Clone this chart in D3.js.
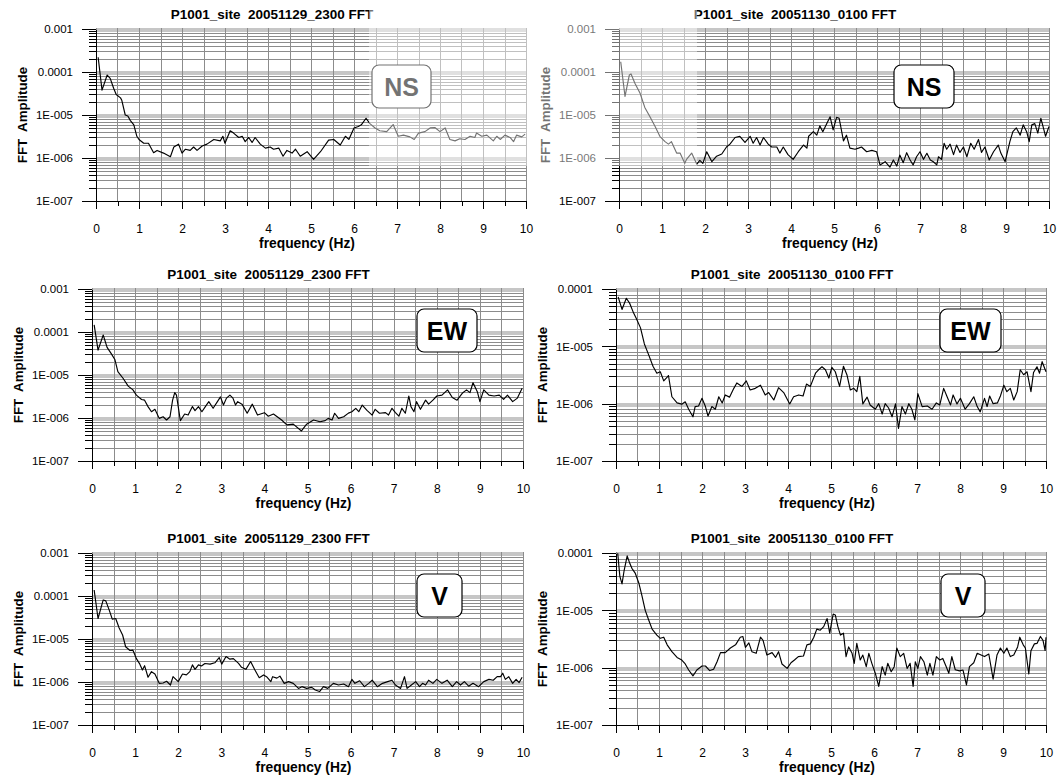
<!DOCTYPE html>
<html lang="en">
<head>
  <meta charset="UTF-8">
  <title>P1001_site FFT</title>
  <style>
    body { margin: 0; padding: 0; background: #fff; }
    svg text { font-family: Arial, "Liberation Sans", sans-serif; white-space: pre; }
    .grid line { stroke: #8c8c8c; stroke-width: 1px; shape-rendering: crispEdges; }
    .grid rect { fill: #c6c6c6; shape-rendering: crispEdges; }
    .axis path, .axis line { stroke: #000; shape-rendering: crispEdges; }
  </style>
</head>
<body>
<div id="chart"></div>
<script src="https://d3js.org/d3.v7.min.js"></script>
<script>
  // amplitudes are in units of 1e-6, frequency in Hz: [f, amp]
  const ns2300 = [[0.05,220],[0.14,38],[0.26,85],[0.33,71],[0.41,42],[0.47,30],[0.57,25],[0.6,22],[0.68,10],[0.74,9.5],[0.8,7.4],[0.88,5.9],[0.95,3.2],[1.0,2.7],[1.11,2.2],[1.22,2.2],[1.34,1.33],[1.42,1.5],[1.57,1.3],[1.73,1.07],[1.81,1.8],[1.92,2.1],[2.0,1.3],[2.08,1.6],[2.19,1.5],[2.27,1.8],[2.35,1.5],[2.47,1.9],[2.58,2.1],[2.74,2.7],[2.89,2.5],[2.95,3.2],[3.0,2.2],[3.12,4.3],[3.2,3.8],[3.32,3.0],[3.4,3.2],[3.47,2.4],[3.55,3.0],[3.63,2.3],[3.7,3.0],[3.82,2.1],[3.94,1.7],[4.05,1.8],[4.13,1.6],[4.25,1.7],[4.35,1.1],[4.44,1.5],[4.56,1.3],[4.64,1.6],[4.75,1.1],[4.91,1.4],[5.06,0.93],[5.22,1.4],[5.41,2.6],[5.53,2.7],[5.68,2.0],[5.8,3.2],[5.88,2.7],[6.0,5.0],[6.1,5.4],[6.17,5.9],[6.28,8.4],[6.37,6.3],[6.49,5.0],[6.6,4.3],[6.76,4.1],[6.91,6.0],[7.03,3.2],[7.15,3.4],[7.3,3.1],[7.4,2.7],[7.5,3.8],[7.65,4.1],[7.77,5.0],[7.88,5.1],[8.0,4.1],[8.12,5.0],[8.23,2.7],[8.35,2.5],[8.46,2.8],[8.58,2.7],[8.7,3.2],[8.81,3.0],[8.85,3.8],[8.97,3.2],[9.09,3.4],[9.24,2.5],[9.32,3.2],[9.4,2.7],[9.51,3.4],[9.63,3.0],[9.71,2.4],[9.78,3.4],[9.9,3.1],[9.98,3.6]];

  const ns0100 = [[0.04,173],[0.14,27],[0.24,85],[0.28,90],[0.37,55],[0.49,32],[0.6,15],[0.72,9.1],[0.84,5.4],[0.95,3.2],[1.07,2.4],[1.15,2.1],[1.22,2.4],[1.34,1.3],[1.42,1.3],[1.53,0.75],[1.57,0.93],[1.69,1.3],[1.81,0.72],[1.88,0.88],[1.95,0.75],[2.04,1.4],[2.16,0.82],[2.27,1.1],[2.39,1.24],[2.5,1.8],[2.58,2.1],[2.7,3.0],[2.81,3.2],[2.93,2.3],[3.05,3.2],[3.12,2.2],[3.2,3.0],[3.28,2.0],[3.36,3.0],[3.47,2.1],[3.55,1.8],[3.67,1.8],[3.74,1.3],[3.82,1.8],[3.93,1.2],[4.05,0.93],[4.17,1.4],[4.29,2.0],[4.37,1.7],[4.41,3.2],[4.52,4.1],[4.6,3.4],[4.67,5.6],[4.74,4.1],[4.83,6.3],[4.91,9.1],[4.98,4.5],[5.06,8.8],[5.12,8.4],[5.22,2.5],[5.29,3.4],[5.37,1.7],[5.49,1.6],[5.57,1.7],[5.64,1.8],[5.76,1.4],[5.88,1.5],[5.99,1.4],[6.07,0.69],[6.19,0.82],[6.3,0.61],[6.38,0.9],[6.46,0.65],[6.53,1.17],[6.61,0.78],[6.69,1.33],[6.77,0.9],[6.84,0.69],[6.92,1.07],[7.0,1.4],[7.08,0.93],[7.16,1.29],[7.24,0.9],[7.31,0.82],[7.39,0.69],[7.43,1.07],[7.5,0.93],[7.56,2.2],[7.62,1.6],[7.7,2.1],[7.78,1.2],[7.85,2.0],[7.93,1.35],[8.01,1.8],[8.09,1.07],[8.18,2.2],[8.26,1.6],[8.36,2.7],[8.43,1.35],[8.51,1.8],[8.61,0.9],[8.71,1.4],[8.82,2.0],[8.88,1.3],[8.98,0.82],[9.09,2.4],[9.16,4.1],[9.24,5.0],[9.33,3.4],[9.4,5.9],[9.48,4.1],[9.54,2.4],[9.6,5.9],[9.67,6.3],[9.74,3.8],[9.81,8.4],[9.87,5.0],[9.92,3.2],[10.0,5.4]];

  const ew2300 = [[0.05,146],[0.14,38],[0.26,85],[0.35,44],[0.45,31],[0.53,23],[0.6,12],[0.72,8.4],[0.84,5.5],[0.95,4.5],[1.03,3.4],[1.15,2.7],[1.22,2.6],[1.3,1.84],[1.38,1.4],[1.46,1.59],[1.56,0.98],[1.65,1.07],[1.73,0.9],[1.81,1.07],[1.87,2.6],[1.92,3.9],[1.96,3.4],[2.05,0.87],[2.15,1.24],[2.23,1.17],[2.33,1.84],[2.39,1.48],[2.47,1.84],[2.55,1.4],[2.63,1.84],[2.71,2.4],[2.81,1.68],[2.91,2.4],[2.98,3.1],[3.05,2.0],[3.12,2.9],[3.2,3.4],[3.27,2.9],[3.33,2.0],[3.38,2.4],[3.48,2.1],[3.6,1.29],[3.72,2.1],[3.84,1.17],[4.0,1.33],[4.09,1.1],[4.21,1.24],[4.4,0.9],[4.52,0.69],[4.67,0.72],[4.86,0.5],[4.98,0.72],[5.14,0.9],[5.29,0.82],[5.41,0.87],[5.48,0.98],[5.57,0.9],[5.63,1.29],[5.72,0.98],[5.84,1.07],[5.95,1.3],[6.03,1.4],[6.12,1.68],[6.19,1.4],[6.27,2.0],[6.38,1.5],[6.5,1.17],[6.57,1.59],[6.67,1.29],[6.81,1.33],[6.88,1.17],[6.96,1.68],[7.04,1.33],[7.12,1.1],[7.19,1.68],[7.27,1.29],[7.35,3.25],[7.4,1.84],[7.47,1.4],[7.53,2.4],[7.62,1.59],[7.74,2.6],[7.81,2.1],[7.91,2.6],[8.0,3.25],[8.12,3.4],[8.25,4.5],[8.36,3.0],[8.47,2.6],[8.59,3.75],[8.69,4.5],[8.77,3.9],[8.84,6.6],[8.94,4.1],[9.0,2.4],[9.09,4.5],[9.21,3.4],[9.33,3.25],[9.45,3.4],[9.55,2.7],[9.64,3.4],[9.76,2.4],[9.87,2.9],[9.98,4.9]];

  const ew0100 = [[0.05,73],[0.14,44],[0.24,69],[0.32,56],[0.41,38],[0.47,31],[0.57,21],[0.66,11],[0.76,7.1],[0.86,4.5],[0.95,3.4],[1.03,3.6],[1.11,2.5],[1.19,2.9],[1.22,3.1],[1.3,1.32],[1.42,1.03],[1.53,0.98],[1.61,1.08],[1.69,0.8],[1.79,0.59],[1.84,0.89],[1.92,0.91],[2.0,1.24],[2.08,0.89],[2.14,0.61],[2.23,0.89],[2.31,0.8],[2.39,1.32],[2.47,1.03],[2.54,1.42],[2.64,1.3],[2.74,1.85],[2.81,2.3],[2.93,2.0],[3.03,2.5],[3.12,1.73],[3.24,1.85],[3.36,2.1],[3.47,1.42],[3.55,1.56],[3.67,1.16],[3.78,1.9],[3.9,1.56],[4.04,0.99],[4.13,1.32],[4.25,1.42],[4.35,1.36],[4.43,2.2],[4.52,2.0],[4.64,3.4],[4.71,3.9],[4.79,4.4],[4.87,3.9],[4.95,2.8],[5.02,4.3],[5.1,3.6],[5.2,2.0],[5.29,4.5],[5.37,3.2],[5.45,1.73],[5.53,1.85],[5.6,1.62],[5.67,3.0],[5.74,0.99],[5.84,1.3],[5.91,0.95],[6.03,0.8],[6.11,1.0],[6.19,0.66],[6.26,1.0],[6.34,0.84],[6.42,0.59],[6.5,0.99],[6.57,0.37],[6.65,0.89],[6.73,0.66],[6.81,1.0],[6.88,0.8],[6.95,0.52],[7.02,1.5],[7.12,0.89],[7.24,0.91],[7.35,0.8],[7.45,1.03],[7.53,0.95],[7.62,1.85],[7.7,1.32],[7.78,0.95],[7.84,1.42],[7.93,0.99],[8.01,1.24],[8.12,0.8],[8.22,1.0],[8.32,1.32],[8.4,0.89],[8.47,0.72],[8.57,1.24],[8.63,0.89],[8.69,1.36],[8.77,1.0],[8.87,1.03],[8.94,1.36],[9.02,2.1],[9.09,1.62],[9.17,1.85],[9.25,1.16],[9.33,1.62],[9.4,3.9],[9.48,3.2],[9.56,3.6],[9.65,1.62],[9.71,3.5],[9.79,4.4],[9.85,3.4],[9.91,5.4],[10.0,3.6]];

  const v2300 = [[0.05,138],[0.14,30],[0.26,81],[0.32,77],[0.4,47],[0.47,29],[0.55,30],[0.63,18],[0.71,12.4],[0.78,6.6],[0.88,5.4],[0.95,5.5],[1.03,3.5],[1.11,2.6],[1.17,1.9],[1.22,2.4],[1.3,1.29],[1.38,1.74],[1.46,1.53],[1.56,0.93],[1.65,0.95],[1.73,1.04],[1.82,0.85],[1.88,1.33],[2.0,1.02],[2.1,1.53],[2.19,1.46],[2.27,1.74],[2.33,2.5],[2.39,1.97],[2.47,2.5],[2.54,2.36],[2.62,2.7],[2.74,2.6],[2.85,2.8],[2.95,3.7],[3.01,2.6],[3.11,3.9],[3.2,3.4],[3.28,3.5],[3.4,2.7],[3.47,2.2],[3.57,1.97],[3.68,3.0],[3.78,1.9],[3.88,1.26],[3.98,1.46],[4.05,1.33],[4.15,1.02],[4.19,1.33],[4.29,1.23],[4.36,1.37],[4.46,0.93],[4.56,1.02],[4.67,0.93],[4.79,0.71],[4.87,0.78],[4.98,0.71],[5.1,0.75],[5.18,0.65],[5.28,0.6],[5.37,0.78],[5.47,0.71],[5.6,0.93],[5.72,0.85],[5.84,0.9],[5.95,0.78],[6.03,1.15],[6.1,0.93],[6.21,1.07],[6.32,0.78],[6.42,0.93],[6.5,1.1],[6.62,0.78],[6.74,0.93],[6.86,1.02],[6.96,1.1],[7.04,0.85],[7.16,0.71],[7.25,1.33],[7.31,0.71],[7.41,0.85],[7.51,1.02],[7.6,0.78],[7.67,0.93],[7.74,0.85],[7.81,1.1],[7.91,0.93],[8.0,1.15],[8.12,0.93],[8.24,1.1],[8.36,0.78],[8.46,1.02],[8.55,0.85],[8.64,1.02],[8.74,0.8],[8.84,0.93],[8.97,0.78],[9.09,1.02],[9.21,1.15],[9.31,1.1],[9.4,1.33],[9.48,1.33],[9.53,1.6],[9.59,1.15],[9.67,1.33],[9.76,0.93],[9.84,1.15],[9.91,0.97],[9.98,1.29]];

  const v0100 = [[0.04,99],[0.09,39],[0.14,29],[0.19,50],[0.26,89],[0.32,66],[0.37,54],[0.45,44],[0.53,30],[0.6,18.5],[0.68,10],[0.76,6.8],[0.84,4.7],[0.95,3.7],[1.03,3.25],[1.11,3.4],[1.19,2.5],[1.3,1.9],[1.42,1.51],[1.53,1.36],[1.61,1.16],[1.69,0.91],[1.79,0.72],[1.88,0.91],[2.0,1.07],[2.08,1.07],[2.18,0.89],[2.27,0.94],[2.35,1.27],[2.43,1.83],[2.54,1.83],[2.66,2.2],[2.78,2.5],[2.89,3.4],[2.95,3.5],[3.01,2.26],[3.09,2.7],[3.16,1.9],[3.26,1.78],[3.36,3.4],[3.42,3.0],[3.51,1.66],[3.63,1.83],[3.71,1.51],[3.78,1.9],[3.86,1.16],[3.98,0.97],[4.07,1.22],[4.15,1.36],[4.24,1.56],[4.36,1.6],[4.44,2.5],[4.52,2.6],[4.6,3.4],[4.67,4.7],[4.75,4.5],[4.83,5.2],[4.91,7.2],[4.97,4.0],[5.05,8.6],[5.1,8.3],[5.16,5.2],[5.22,3.7],[5.29,4.0],[5.35,1.56],[5.41,2.3],[5.49,1.78],[5.54,1.19],[5.6,2.65],[5.68,1.36],[5.74,1.66],[5.82,1.04],[5.88,1.78],[5.95,1.19],[6.03,0.8],[6.11,0.47],[6.19,1.04],[6.26,0.74],[6.32,1.19],[6.4,0.85],[6.47,1.04],[6.53,2.2],[6.61,1.56],[6.69,1.78],[6.77,0.97],[6.84,1.19],[6.91,0.47],[6.96,1.27],[7.02,0.97],[7.08,1.56],[7.16,1.27],[7.24,0.74],[7.3,1.19],[7.37,0.74],[7.45,1.56],[7.53,1.36],[7.6,1.45],[7.68,1.04],[7.74,0.8],[7.81,1.56],[7.89,0.92],[7.99,0.88],[8.07,0.91],[8.15,0.5],[8.22,1.04],[8.32,1.22],[8.4,1.78],[8.49,1.66],[8.57,1.56],[8.67,1.73],[8.77,0.63],[8.86,1.66],[8.94,2.2],[9.02,1.78],[9.09,2.2],[9.17,1.56],[9.25,1.66],[9.34,2.3],[9.39,3.4],[9.47,2.5],[9.52,2.2],[9.6,0.78],[9.65,1.98],[9.73,2.6],[9.79,2.65],[9.87,3.5],[9.93,3.0],[9.98,1.99],[10.0,3.4]];

  const titles = ["P1001_site  20051129_2300 FFT", "P1001_site  20051130_0100 FFT"];
  const components = ["NS", "EW", "V"];
  const decadeValues = [1e-3, 1e-4, 1e-5, 1e-6, 1e-7];
  const decadeLabels = ["0.001", "0.0001", "1E-005", "1E-006", "1E-007"];
  const freqTicks = [0, 1, 2, 3, 4, 5, 6, 7, 8, 9, 10];
  const freqHalfTicks = [0.5, 1.5, 2.5, 3.5, 4.5, 5.5, 6.5, 7.5, 8.5, 9.5];

  const panels = [
    { x0: 96,  x1: 526,  top: 29,  bottom: 201, ymax: 1e-3, title: titles[0], comp: components[0], data: ns2300, box: [372, 65, 59, 43] },
    { x0: 619, x1: 1049, top: 29,  bottom: 201, ymax: 1e-3, title: titles[1], comp: components[0], data: ns0100, box: [894, 65, 60, 43] },
    { x0: 92,  x1: 523,  top: 289, bottom: 461, ymax: 1e-3, title: titles[0], comp: components[1], data: ew2300, box: [417, 309, 60, 43] },
    { x0: 616, x1: 1046, top: 289, bottom: 461, ymax: 1e-4, title: titles[1], comp: components[1], data: ew0100, box: [940, 309, 61, 43] },
    { x0: 92,  x1: 523,  top: 553, bottom: 725, ymax: 1e-3, title: titles[0], comp: components[2], data: v2300,  box: [417, 574, 45, 43] },
    { x0: 616, x1: 1046, top: 553, bottom: 725, ymax: 1e-4, title: titles[1], comp: components[2], data: v0100,  box: [941, 574, 44, 43] }
  ];

  const svg = d3.select("#chart").append("svg")
      .attr("width", 1061)
      .attr("height", 778);

  const isDecade = v => decadeValues.some(d => Math.abs(d / v - 1) < 1e-6);
  const isNine = v => Math.abs(v / Math.pow(10, Math.floor(Math.log10(v) + 1e-9)) - 9) < 1e-6;

  panels.forEach(p => {
    const x = d3.scaleLinear().domain([0, 10]).range([p.x0, p.x1]);
    const y = d3.scaleLog().domain([1e-7, p.ymax]).range([p.bottom, p.top]);
    const g = svg.append("g");
    const logTicks = y.ticks();

    // log grid: light band at each decade, thin lines for 2..8
    const grid = g.append("g").attr("class", "grid");
    grid.selectAll("rect").data(logTicks.filter(isDecade).filter(v => v > 1e-7)).enter().append("rect")
        .attr("x", p.x0).attr("width", p.x1 - p.x0)
        .attr("y", d => Math.round(y(d)) - 1).attr("height", 4);
    grid.selectAll(".h").data(logTicks.filter(v => !isDecade(v) && !isNine(v))).enter().append("line")
        .attr("x1", p.x0).attr("x2", p.x1)
        .attr("y1", d => Math.round(y(d)) + 0.5).attr("y2", d => Math.round(y(d)) + 0.5);
    grid.selectAll(".v").data(freqTicks.concat(freqHalfTicks)).enter().append("line")
        .attr("x1", d => Math.round(x(d)) + 0.5).attr("x2", d => Math.round(x(d)) + 0.5)
        .attr("y1", p.top - 1).attr("y2", p.bottom);

    // y axis: decade labels + minor ticks
    const decs = decadeValues.filter(v => v <= p.ymax * 1.0001);
    const yAxis = g.append("g").attr("class", "axis")
        .attr("transform", `translate(${p.x0},0)`)
        .call(d3.axisLeft(y).tickValues(decs).tickSize(14).tickSizeOuter(0).tickPadding(9)
          .tickFormat(d => decadeLabels[decadeValues.indexOf(d)]));
    yAxis.selectAll("text").attr("font-size", 11.5).attr("fill", "#000");
    g.append("g").attr("class", "axis")
        .attr("transform", `translate(${p.x0},0)`)
        .call(d3.axisLeft(y).tickValues(logTicks.filter(v => !isDecade(v)))
          .tickSize(7).tickSizeOuter(0).tickFormat(""))
        .select(".domain").remove();

    // x axis
    const xAxis = g.append("g").attr("class", "axis")
        .attr("transform", `translate(0,${p.bottom})`)
        .call(d3.axisBottom(x).tickValues(freqTicks).tickSize(8).tickSizeOuter(0).tickPadding(15)
          .tickFormat(d3.format("d")));
    xAxis.selectAll("text").attr("font-size", 12).attr("fill", "#000");
    g.append("g").attr("class", "axis")
        .attr("transform", `translate(0,${p.bottom})`)
        .call(d3.axisBottom(x).tickValues(freqHalfTicks).tickSize(5).tickSizeOuter(0).tickFormat(""))
        .select(".domain").remove();
    g.append("line").attr("x1", p.x0 - 14).attr("x2", p.x0)
        .attr("y1", p.bottom + 0.5).attr("y2", p.bottom + 0.5).attr("stroke", "#000");

    // spectrum line
    const line = d3.line()
        .x(d => x(d[0]))
        .y(d => y(Math.min(d[1] * 1e-6, p.ymax)));
    g.append("path").datum(p.data)
        .attr("fill", "none").attr("stroke", "#000").attr("stroke-width", 1.15)
        .attr("stroke-linejoin", "round")
        .attr("d", line);

    // titles
    g.append("text")
        .attr("x", (p.x0 + p.x1) / 2 - 39).attr("y", p.top - 10.5)
        .attr("text-anchor", "middle").attr("font-size", 13.5).attr("font-weight", "bold")
        .text(p.title);
    g.append("text")
        .attr("x", (p.x0 + p.x1) / 2 - 4).attr("y", p.bottom + 47)
        .attr("text-anchor", "middle").attr("font-size", 13.8).attr("font-weight", "bold")
        .text("frequency (Hz)");
    g.append("text")
        .attr("transform", `translate(${p.x0 - 69},${(p.top + p.bottom) / 2}) rotate(-90)`)
        .attr("text-anchor", "middle").attr("font-size", 13.3).attr("font-weight", "bold")
        .text("FFT  Amplitude");

    // component label box
    const [bx, by, bw, bh] = p.box;
    g.append("rect").attr("x", bx).attr("y", by).attr("width", bw).attr("height", bh)
        .attr("rx", 7).attr("fill", "#fff").attr("stroke", "#000").attr("stroke-width", 1.2);
    g.append("text").attr("x", bx + bw / 2).attr("y", by + bh / 2 + 9)
        .attr("text-anchor", "middle").attr("font-size", 25).attr("font-weight", "bold")
        .text(p.comp);
  });

  // faded watermark area of the scanned page
  svg.append("rect").attr("x", 369).attr("y", 0).attr("width", 328).attr("height", 166)
      .attr("fill", "#fff").attr("opacity", 0.45);
</script>
</body>
</html>
